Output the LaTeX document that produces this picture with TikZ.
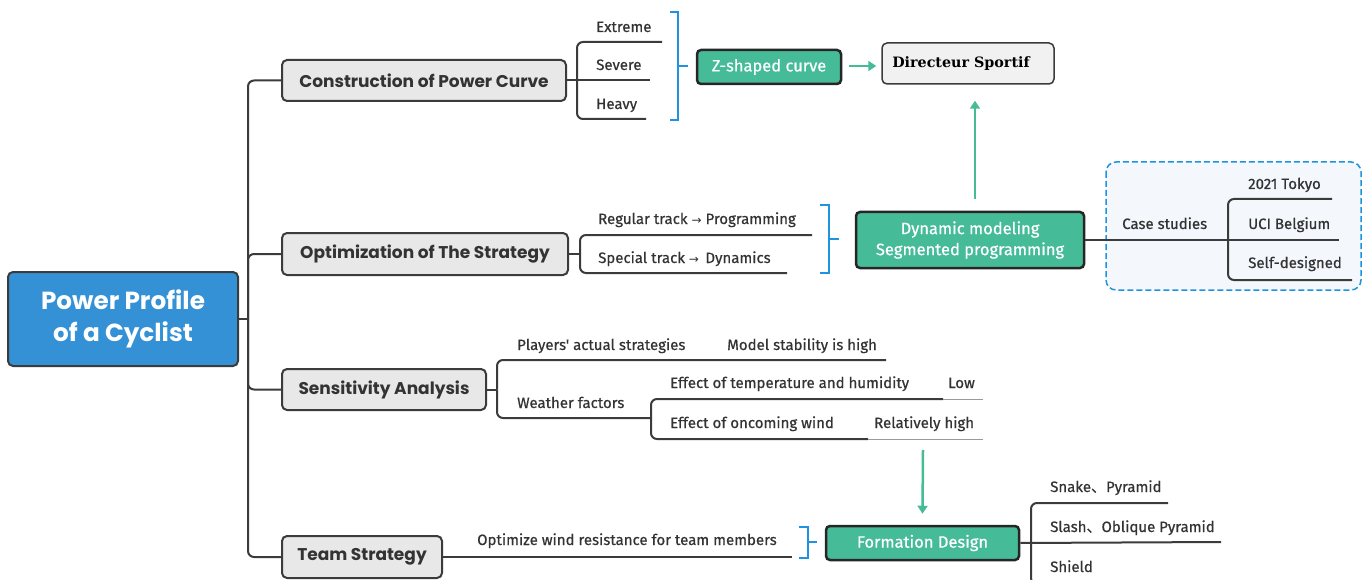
\documentclass[tikz,border=0pt]{standalone}
\usepackage{fontspec}
\setmainfont{Fira Sans}
\newfontfamily\rootfont{Poppins}
\newfontfamily\leaffont[FakeBold=0.6]{Fira Sans}
\newfontfamily\sportfont{DejaVu Serif}
\newfontfamily\cjk[FakeBold=0.6]{Noto Sans CJK SC}
\newfontfamily\arrowfont{DejaVu Sans}
\usetikzlibrary{arrows.meta}

\definecolor{rootblue}{HTML}{3591D6}
\definecolor{topicgray}{HTML}{E8E8E8}
\definecolor{mintgreen}{HTML}{45BB98}
\definecolor{linegray}{HTML}{3B3B3B}
\definecolor{inkgray}{HTML}{333333}
\definecolor{bracketblue}{HTML}{1F93DF}
\definecolor{casefill}{HTML}{F4F8FC}

\newcommand{\dun}{{\cjk 、}}
\newcommand{\rarr}{{\arrowfont\fontsize{12pt}{12pt}\selectfont →}}

\tikzset{
  rootbox/.style={draw=linegray, line width=2pt, rounded corners=5pt, fill=rootblue,
    text=white, align=center, inner sep=0pt,
    font=\rootfont\bfseries\fontsize{24.7pt}{32pt}\selectfont},
  topicbox/.style={draw=linegray, line width=2pt, rounded corners=5pt, fill=topicgray,
    text=inkgray, inner sep=0pt, font=\rootfont\bfseries\fontsize{17pt}{20pt}\selectfont},
  greenbox/.style={draw=black!85, line width=2.5pt, rounded corners=4pt, fill=mintgreen,
    text=white, inner sep=0pt, font=\leaffont\fontsize{16.5pt}{21pt}\selectfont},
  sportbox/.style={draw=linegray, line width=1.5pt, rounded corners=5pt, fill=topicgray!60,
    text=black, inner sep=0pt, font=\sportfont\bfseries\fontsize{14.3pt}{18pt}\selectfont},
  leaf/.style={anchor=base west, inner sep=0pt, text=inkgray,
    font=\leaffont\fontsize{15pt}{17pt}\selectfont},
  branch/.style={draw=linegray, line width=2pt, rounded corners=6pt},
  faint/.style={draw=black!40, line width=1pt},
  bracket/.style={draw=bracketblue, line width=2pt},
  flow/.style={draw=mintgreen, line width=2.5pt, -{Triangle[length=8pt,width=10pt]}},
  casebox/.style={draw=bracketblue, dash pattern=on 6pt off 3pt, line width=1.5pt,
    rounded corners=10pt, fill=casefill}
}

\begin{document}
\begin{tikzpicture}[x=1pt, y=-1pt]
  \useasboundingbox (0,0) rectangle (1362,580);
  \clip (0,0) rectangle (1362,580);

  % Case study frame
  \draw[casebox] (1106,162) rectangle (1361,290);

  % Root
  \node[rootbox, minimum width=230pt, minimum height=94pt] (root) at (123,319)
    {Power Profile\\of a Cyclist};

  % Topics
  \node[topicbox, minimum width=284pt, minimum height=41pt] (cons) at (424,80.5)
    {Construction of Power Curve};
  \node[topicbox, minimum width=286pt, minimum height=42pt] (opt) at (425,254)
    {Optimization of The Strategy};
  \node[topicbox, minimum width=204pt, minimum height=41pt] (sens) at (384,389.5)
    {Sensitivity Analysis};
  \node[topicbox, minimum width=160pt, minimum height=42pt] (team) at (362,557)
    {Team Strategy};

  % Trunk
  \coordinate (trunk) at (248,319);
  \draw[branch] (root.east) -- (trunk);
  \draw[branch] (trunk) |- (cons.west);
  \draw[branch] (trunk) |- (opt.west);
  \draw[branch] (trunk) |- (sens.west);
  \draw[branch] (trunk) |- (team.west);

  % Construction of power curve
  \coordinate (cfork) at (577,80.5);
  \draw[branch] (cons.east) -- (650,80.5);
  \draw[branch] (cfork) |- (662,42);
  \draw[branch] (cfork) |- (646,119);
  \node[leaf] (extreme) at (596,32) {Extreme};
  \node[leaf] (severe) at (596,70) {Severe};
  \node[leaf] (heavy) at (596,109) {Heavy};
  \draw[bracket] (670,12) -- (678,12) -- (678,120) -- (670,120);
  \draw[bracket] (678,66) -- (688,66);

  \node[greenbox, minimum width=144pt, minimum height=34pt] (zcurve) at (769,67)
    {Z-shaped curve};
  \node[sportbox, minimum width=172pt, minimum height=41pt] (dirsp) at (968,63.5)
    {Directeur Sportif\kern14pt};
  \coordinate (zc) at (dirsp.west |- 0,66);
  \draw[flow] ([xshift=7pt]zcurve.east |- zc) -- ([xshift=-5pt]zc);

  % Optimization of the strategy
  \coordinate (ofork) at (580,254);
  \draw[branch] (opt.east) -- (ofork);
  \draw[branch] (ofork) |- (812,235);
  \draw[branch] (ofork) |- (787,273);
  \node[leaf] (regular) at (598,224) {Regular track \rarr{} Programming};
  \node[leaf] (special) at (598,263) {Special track \rarr{}\, Dynamics};
  \draw[bracket] (820,205) -- (829,205) -- (829,273) -- (820,273);
  \draw[bracket] (829,239) -- (839,239);

  \node[greenbox, minimum width=228pt, minimum height=56pt, align=center] (dynmod)
    at (970,240) {Dynamic modeling\\Segmented programming};
  \draw[flow] ([xshift=5pt,yshift=12pt]dynmod.north) -- ([xshift=7pt,yshift=-16pt]dirsp.south);

  % Case studies
  \coordinate (kfork) at (1228,240);
  \draw[branch] (dynmod.east) -- (1339,240);
  \draw[branch] (kfork) |- (1332,199);
  \draw[branch] (kfork) |- (1352,280);
  \node[leaf] (cases) at (1122,229) {Case studies};
  \node[leaf] (tokyo) at (1248,189) {2021 Tokyo};
  \node[leaf] (uci) at (1248,229) {UCI Belgium};
  \node[leaf] (selfdes) at (1248,268) {Self-designed};

  % Sensitivity analysis
  \coordinate (sfork) at (497,389.5);
  \coordinate (wfork) at (651,418);
  \draw[branch] (sens.east) -- (sfork);
  \draw[branch] (sfork) |- (886,360);
  \draw[branch] (sfork) |- (wfork);
  \draw[branch] (wfork) |- (943,399);
  \draw[branch] (wfork) |- (868,439);
  \draw[faint] (943,399) -- (983,399);
  \draw[faint] (868,439) -- (983,439);
  \node[leaf] (players) at (517,350) {Players' actual strategies};
  \node[leaf] (stable) at (727,350) {Model stability is high};
  \node[leaf] (weather) at (517,408) {Weather factors};
  \node[leaf] (temp) at (670,388) {Effect of temperature and humidity};
  \node[leaf] (low) at (948,388) {Low};
  \node[leaf] (wind) at (670,428) {Effect of oncoming wind};
  \node[leaf] (relhigh) at (874,428) {Relatively high};

  % Team strategy
  \draw[branch] (team.east) -- (792,557);
  \node[leaf] (windres) at (477,545) {Optimize wind resistance for team members};
  \draw[bracket] (799,527) -- (808,527) -- (808,558) -- (799,558);
  \draw[bracket] (808,542) -- (817,542);

  \node[greenbox, minimum width=193pt, minimum height=34pt] (formation) at (922.5,543)
    {Formation Design};
  \coordinate (windtip) at (923,450);
  \draw[flow] (windtip) -- ([yshift=11pt]formation.north);

  % Formations
  \coordinate (ffork) at (1031,542);
  \draw[branch] (formation.east) -- (1221,542);
  \draw[branch] (ffork) |- (1168,503);
  \draw[branch] (ffork) |- (1190,584);
  \node[leaf] (snake) at (1050,492) {Snake\dun Pyramid};
  \node[leaf] (slash) at (1050,532) {Slash\dun Oblique Pyramid};
  \node[leaf] (shield) at (1050,572) {Shield};
\end{tikzpicture}
\end{document}
